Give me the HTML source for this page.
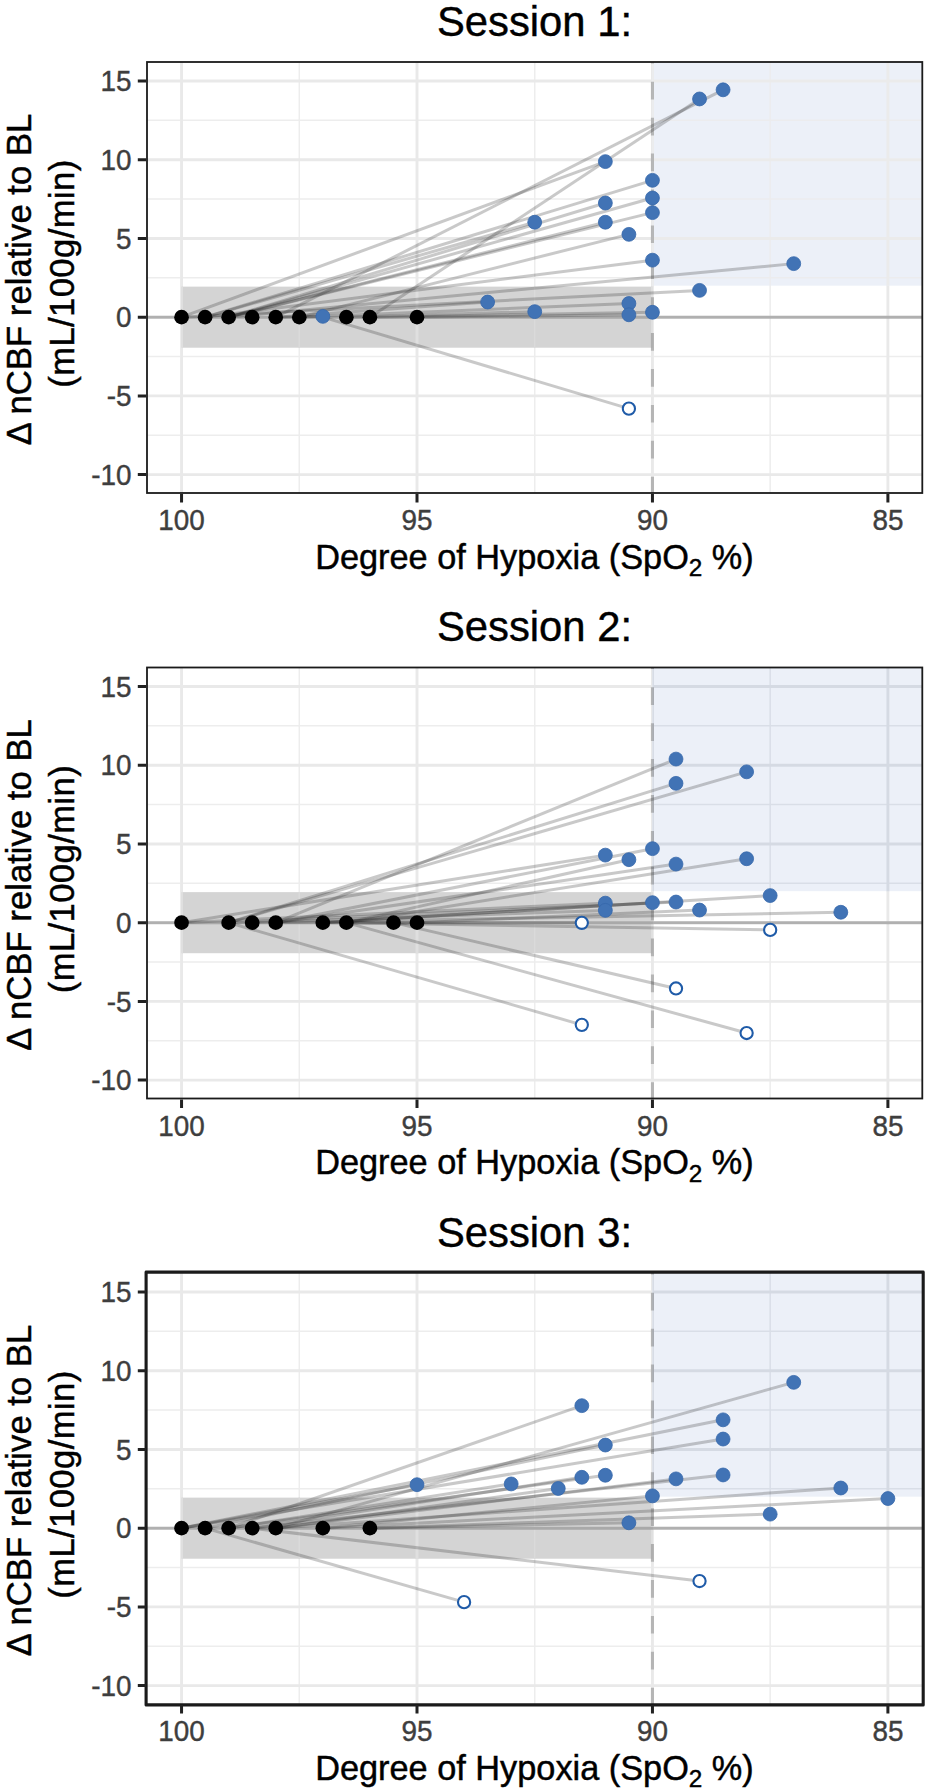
<!DOCTYPE html>
<html lang="en"><head><meta charset="utf-8"><title>Change in nCBF relative to baseline by degree of hypoxia</title>
<style>html,body{margin:0;padding:0;background:#fff}svg{display:block}text{font-family:"Liberation Sans",Arial,Helvetica,sans-serif}</style></head><body>
<svg width="930" height="1792" viewBox="0 0 930 1792">
<rect x="0" y="0" width="930" height="1792" fill="#ffffff"/>
<g id="panel1">
<clipPath id="cp0"><rect x="147.0" y="62.00" width="775.30" height="431.00"/></clipPath>
<clipPath id="cg0"><rect x="181.55" y="286.62" width="470.90" height="61.09"/></clipPath>
<clipPath id="cb0"><rect x="652.45" y="62.00" width="269.85" height="223.67"/></clipPath>
<g clip-path="url(#cp0)" fill="none"><path d="M299.28 62.00V493.00M534.73 62.00V493.00M770.17 62.00V493.00M147.0 120.36H922.3M147.0 199.08H922.3M147.0 277.80H922.3M147.0 356.52H922.3M147.0 435.24H922.3" stroke="#ededed" stroke-width="1.5"/><path d="M181.55 62.00V493.00M417.00 62.00V493.00M652.45 62.00V493.00M887.90 62.00V493.00M147.0 81.00H922.3M147.0 159.72H922.3M147.0 238.44H922.3M147.0 317.16H922.3M147.0 395.88H922.3M147.0 474.60H922.3" stroke="#e9e9e9" stroke-width="2.9"/></g>
<rect x="181.55" y="286.62" width="470.90" height="61.09" fill="#d4d4d4"/>
<g clip-path="url(#cg0)" fill="none"><path d="M299.28 62.00V493.00M534.73 62.00V493.00M770.17 62.00V493.00M147.0 120.36H922.3M147.0 199.08H922.3M147.0 277.80H922.3M147.0 356.52H922.3M147.0 435.24H922.3" stroke="#dadada" stroke-width="1.5"/><path d="M181.55 62.00V493.00M417.00 62.00V493.00M652.45 62.00V493.00M887.90 62.00V493.00M147.0 81.00H922.3M147.0 159.72H922.3M147.0 238.44H922.3M147.0 317.16H922.3M147.0 395.88H922.3M147.0 474.60H922.3" stroke="#dfdfdf" stroke-width="2.9"/></g>
<rect x="652.45" y="62.00" width="269.85" height="223.67" fill="#ecf0f8"/>
<g clip-path="url(#cb0)" fill="none"><path d="M299.28 62.00V493.00M534.73 62.00V493.00M770.17 62.00V493.00M147.0 120.36H922.3M147.0 199.08H922.3M147.0 277.80H922.3M147.0 356.52H922.3M147.0 435.24H922.3" stroke="#ececee" stroke-width="1.5"/><path d="M181.55 62.00V493.00M417.00 62.00V493.00M652.45 62.00V493.00M887.90 62.00V493.00M147.0 81.00H922.3M147.0 159.72H922.3M147.0 238.44H922.3M147.0 317.16H922.3M147.0 395.88H922.3M147.0 474.60H922.3" stroke="#ebebeb" stroke-width="2.9"/></g>
<g clip-path="url(#cp0)">
<line x1="147.0" y1="317.16" x2="922.3" y2="317.16" stroke="rgba(60,60,60,0.33)" stroke-width="3.0"/>
<line x1="652.45" y1="493.00" x2="652.45" y2="62.00" stroke="rgba(90,90,90,0.36)" stroke-width="3.1" stroke-dasharray="17.7 18.2" stroke-dashoffset="1.4"/>
<path d="M275.73 317.16L723.09 89.82" fill="none" stroke="rgba(40,40,40,0.25)" stroke-width="3.0" stroke-linejoin="round"/>
<path d="M369.91 317.16L699.54 98.95" fill="none" stroke="rgba(40,40,40,0.25)" stroke-width="3.0" stroke-linejoin="round"/>
<path d="M181.55 317.16L605.36 161.61" fill="none" stroke="rgba(40,40,40,0.25)" stroke-width="3.0" stroke-linejoin="round"/>
<path d="M205.10 317.16L652.45 180.34" fill="none" stroke="rgba(40,40,40,0.25)" stroke-width="3.0" stroke-linejoin="round"/>
<path d="M205.10 317.16L534.73 222.22" fill="none" stroke="rgba(40,40,40,0.25)" stroke-width="3.0" stroke-linejoin="round"/>
<path d="M228.64 317.16L605.36 203.02" fill="none" stroke="rgba(40,40,40,0.25)" stroke-width="3.0" stroke-linejoin="round"/>
<path d="M228.64 317.16L652.45 197.98" fill="none" stroke="rgba(40,40,40,0.25)" stroke-width="3.0" stroke-linejoin="round"/>
<path d="M228.64 317.16L605.36 222.22" fill="none" stroke="rgba(40,40,40,0.25)" stroke-width="3.0" stroke-linejoin="round"/>
<path d="M228.64 317.16L652.45 212.62" fill="none" stroke="rgba(40,40,40,0.25)" stroke-width="3.0" stroke-linejoin="round"/>
<path d="M299.28 317.16L628.90 234.35" fill="none" stroke="rgba(40,40,40,0.25)" stroke-width="3.0" stroke-linejoin="round"/>
<path d="M205.10 317.16L652.45 260.17" fill="none" stroke="rgba(40,40,40,0.25)" stroke-width="3.0" stroke-linejoin="round"/>
<path d="M228.64 317.16L793.72 263.63" fill="none" stroke="rgba(40,40,40,0.25)" stroke-width="3.0" stroke-linejoin="round"/>
<path d="M181.55 317.16L699.54 290.40" fill="none" stroke="rgba(40,40,40,0.25)" stroke-width="3.0" stroke-linejoin="round"/>
<path d="M275.73 317.16L487.64 302.05" fill="none" stroke="rgba(40,40,40,0.25)" stroke-width="3.0" stroke-linejoin="round"/>
<path d="M299.28 317.16L628.90 303.46" fill="none" stroke="rgba(40,40,40,0.25)" stroke-width="3.0" stroke-linejoin="round"/>
<path d="M346.37 317.16L534.73 311.65" fill="none" stroke="rgba(40,40,40,0.25)" stroke-width="3.0" stroke-linejoin="round"/>
<path d="M417.00 317.16L628.90 314.80" fill="none" stroke="rgba(40,40,40,0.25)" stroke-width="3.0" stroke-linejoin="round"/>
<path d="M369.91 317.16L652.45 312.28" fill="none" stroke="rgba(40,40,40,0.25)" stroke-width="3.0" stroke-linejoin="round"/>
<path d="M322.82 317.16L628.90 408.63" fill="none" stroke="rgba(40,40,40,0.25)" stroke-width="3.0" stroke-linejoin="round"/>
<path d="M275.73 317.16L322.82 316.37" fill="none" stroke="rgba(40,40,40,0.25)" stroke-width="3.0" stroke-linejoin="round"/>
<circle cx="181.55" cy="317.16" r="7.35" fill="#000"/>
<circle cx="205.10" cy="317.16" r="7.35" fill="#000"/>
<circle cx="228.64" cy="317.16" r="7.35" fill="#000"/>
<circle cx="252.19" cy="317.16" r="7.35" fill="#000"/>
<circle cx="275.73" cy="317.16" r="7.35" fill="#000"/>
<circle cx="299.28" cy="317.16" r="7.35" fill="#000"/>
<circle cx="346.37" cy="317.16" r="7.35" fill="#000"/>
<circle cx="369.91" cy="317.16" r="7.35" fill="#000"/>
<circle cx="417.00" cy="317.16" r="7.35" fill="#000"/>
<circle cx="723.09" cy="89.82" r="6.949999999999999" fill="#4173B5" stroke="#3567AB" stroke-width="0.8"/>
<circle cx="699.54" cy="98.95" r="6.949999999999999" fill="#4173B5" stroke="#3567AB" stroke-width="0.8"/>
<circle cx="605.36" cy="161.61" r="6.949999999999999" fill="#4173B5" stroke="#3567AB" stroke-width="0.8"/>
<circle cx="652.45" cy="180.34" r="6.949999999999999" fill="#4173B5" stroke="#3567AB" stroke-width="0.8"/>
<circle cx="534.73" cy="222.22" r="6.949999999999999" fill="#4173B5" stroke="#3567AB" stroke-width="0.8"/>
<circle cx="605.36" cy="203.02" r="6.949999999999999" fill="#4173B5" stroke="#3567AB" stroke-width="0.8"/>
<circle cx="652.45" cy="197.98" r="6.949999999999999" fill="#4173B5" stroke="#3567AB" stroke-width="0.8"/>
<circle cx="605.36" cy="222.22" r="6.949999999999999" fill="#4173B5" stroke="#3567AB" stroke-width="0.8"/>
<circle cx="652.45" cy="212.62" r="6.949999999999999" fill="#4173B5" stroke="#3567AB" stroke-width="0.8"/>
<circle cx="628.90" cy="234.35" r="6.949999999999999" fill="#4173B5" stroke="#3567AB" stroke-width="0.8"/>
<circle cx="652.45" cy="260.17" r="6.949999999999999" fill="#4173B5" stroke="#3567AB" stroke-width="0.8"/>
<circle cx="793.72" cy="263.63" r="6.949999999999999" fill="#4173B5" stroke="#3567AB" stroke-width="0.8"/>
<circle cx="699.54" cy="290.40" r="6.949999999999999" fill="#4173B5" stroke="#3567AB" stroke-width="0.8"/>
<circle cx="487.64" cy="302.05" r="6.949999999999999" fill="#4173B5" stroke="#3567AB" stroke-width="0.8"/>
<circle cx="628.90" cy="303.46" r="6.949999999999999" fill="#4173B5" stroke="#3567AB" stroke-width="0.8"/>
<circle cx="534.73" cy="311.65" r="6.949999999999999" fill="#4173B5" stroke="#3567AB" stroke-width="0.8"/>
<circle cx="628.90" cy="314.80" r="6.949999999999999" fill="#4173B5" stroke="#3567AB" stroke-width="0.8"/>
<circle cx="652.45" cy="312.28" r="6.949999999999999" fill="#4173B5" stroke="#3567AB" stroke-width="0.8"/>
<circle cx="628.90" cy="408.63" r="6.1" fill="#fff" stroke="#1F5BA8" stroke-width="2.1"/>
<circle cx="322.82" cy="316.37" r="6.949999999999999" fill="#4173B5" stroke="#3567AB" stroke-width="0.8"/>
</g>
<rect x="147.0" y="62.00" width="775.30" height="431.00" fill="none" stroke="#1a1a1a" stroke-width="1.8"/>
<path d="M137.80 81.00H146.10M137.80 159.72H146.10M137.80 238.44H146.10M137.80 317.16H146.10M137.80 395.88H146.10M137.80 474.60H146.10M181.55 493.90V502.40M417.00 493.90V502.40M652.45 493.90V502.40M887.90 493.90V502.40" stroke="#222" stroke-width="3" fill="none"/>
<text transform="translate(131.6 91.20) scale(0.975 1)" font-size="28.6" fill="#3e3e3e" stroke="#3e3e3e" stroke-width="0.4" text-anchor="end">15</text>
<text transform="translate(131.6 169.92) scale(0.975 1)" font-size="28.6" fill="#3e3e3e" stroke="#3e3e3e" stroke-width="0.4" text-anchor="end">10</text>
<text transform="translate(131.6 248.64) scale(0.975 1)" font-size="28.6" fill="#3e3e3e" stroke="#3e3e3e" stroke-width="0.4" text-anchor="end">5</text>
<text transform="translate(131.6 327.36) scale(0.975 1)" font-size="28.6" fill="#3e3e3e" stroke="#3e3e3e" stroke-width="0.4" text-anchor="end">0</text>
<text transform="translate(131.6 406.08) scale(0.975 1)" font-size="28.6" fill="#3e3e3e" stroke="#3e3e3e" stroke-width="0.4" text-anchor="end">-5</text>
<text transform="translate(131.6 484.80) scale(0.975 1)" font-size="28.6" fill="#3e3e3e" stroke="#3e3e3e" stroke-width="0.4" text-anchor="end">-10</text>
<text transform="translate(181.55 530.40) scale(0.975 1)" font-size="28.6" fill="#3e3e3e" stroke="#3e3e3e" stroke-width="0.4" text-anchor="middle">100</text>
<text transform="translate(417.00 530.40) scale(0.975 1)" font-size="28.6" fill="#3e3e3e" stroke="#3e3e3e" stroke-width="0.4" text-anchor="middle">95</text>
<text transform="translate(652.45 530.40) scale(0.975 1)" font-size="28.6" fill="#3e3e3e" stroke="#3e3e3e" stroke-width="0.4" text-anchor="middle">90</text>
<text transform="translate(887.90 530.40) scale(0.975 1)" font-size="28.6" fill="#3e3e3e" stroke="#3e3e3e" stroke-width="0.4" text-anchor="middle">85</text>
<text x="534.5" y="35.50" font-size="41.8" fill="#000" stroke="#000" stroke-width="0.4" text-anchor="middle">Session 1:</text>
<text x="534.5" y="568.80" font-size="34.3" fill="#000" stroke="#000" stroke-width="0.45" text-anchor="middle">Degree of Hypoxia (SpO<tspan font-size="24.3" dy="7.6">2</tspan><tspan dy="-7.6"> %)</tspan></text>
<text transform="translate(30.9 279.50) rotate(-90)" font-size="34.7" fill="#000" stroke="#000" stroke-width="0.45" text-anchor="middle">Δ nCBF relative to BL</text>
<text transform="translate(73.7 273.60) rotate(-90)" font-size="34.7" letter-spacing="0.36" fill="#000" stroke="#000" stroke-width="0.45" text-anchor="middle">(mL/100g/min)</text>
</g>
<g id="panel2">
<clipPath id="cp1"><rect x="147.0" y="667.50" width="775.30" height="431.00"/></clipPath>
<clipPath id="cg1"><rect x="181.55" y="892.12" width="470.90" height="61.09"/></clipPath>
<clipPath id="cb1"><rect x="652.45" y="667.50" width="269.85" height="223.67"/></clipPath>
<g clip-path="url(#cp1)" fill="none"><path d="M299.28 667.50V1098.50M534.73 667.50V1098.50M770.17 667.50V1098.50M147.0 725.86H922.3M147.0 804.58H922.3M147.0 883.30H922.3M147.0 962.02H922.3M147.0 1040.74H922.3" stroke="#ededed" stroke-width="1.5"/><path d="M181.55 667.50V1098.50M417.00 667.50V1098.50M652.45 667.50V1098.50M887.90 667.50V1098.50M147.0 686.50H922.3M147.0 765.22H922.3M147.0 843.94H922.3M147.0 922.66H922.3M147.0 1001.38H922.3M147.0 1080.10H922.3" stroke="#e9e9e9" stroke-width="2.9"/></g>
<rect x="181.55" y="892.12" width="470.90" height="61.09" fill="#d4d4d4"/>
<g clip-path="url(#cg1)" fill="none"><path d="M299.28 667.50V1098.50M534.73 667.50V1098.50M770.17 667.50V1098.50M147.0 725.86H922.3M147.0 804.58H922.3M147.0 883.30H922.3M147.0 962.02H922.3M147.0 1040.74H922.3" stroke="#dadada" stroke-width="1.5"/><path d="M181.55 667.50V1098.50M417.00 667.50V1098.50M652.45 667.50V1098.50M887.90 667.50V1098.50M147.0 686.50H922.3M147.0 765.22H922.3M147.0 843.94H922.3M147.0 922.66H922.3M147.0 1001.38H922.3M147.0 1080.10H922.3" stroke="#dfdfdf" stroke-width="2.9"/></g>
<rect x="652.45" y="667.50" width="269.85" height="223.67" fill="#ecf0f8"/>
<g clip-path="url(#cb1)" fill="none"><path d="M299.28 667.50V1098.50M534.73 667.50V1098.50M770.17 667.50V1098.50M147.0 725.86H922.3M147.0 804.58H922.3M147.0 883.30H922.3M147.0 962.02H922.3M147.0 1040.74H922.3" stroke="#d9dee7" stroke-width="1.5"/><path d="M181.55 667.50V1098.50M417.00 667.50V1098.50M652.45 667.50V1098.50M887.90 667.50V1098.50M147.0 686.50H922.3M147.0 765.22H922.3M147.0 843.94H922.3M147.0 922.66H922.3M147.0 1001.38H922.3M147.0 1080.10H922.3" stroke="#d5dae3" stroke-width="2.9"/></g>
<g clip-path="url(#cp1)">
<line x1="147.0" y1="922.66" x2="922.3" y2="922.66" stroke="rgba(60,60,60,0.33)" stroke-width="3.0"/>
<line x1="652.45" y1="1098.50" x2="652.45" y2="667.50" stroke="rgba(90,90,90,0.36)" stroke-width="3.1" stroke-dasharray="17.7 18.2" stroke-dashoffset="1.4"/>
<path d="M275.73 922.66L676.00 759.08" fill="none" stroke="rgba(40,40,40,0.25)" stroke-width="3.0" stroke-linejoin="round"/>
<path d="M228.64 922.66L746.63 771.83" fill="none" stroke="rgba(40,40,40,0.25)" stroke-width="3.0" stroke-linejoin="round"/>
<path d="M228.64 922.66L676.00 783.33" fill="none" stroke="rgba(40,40,40,0.25)" stroke-width="3.0" stroke-linejoin="round"/>
<path d="M275.73 922.66L652.45 848.66" fill="none" stroke="rgba(40,40,40,0.25)" stroke-width="3.0" stroke-linejoin="round"/>
<path d="M181.55 922.66L605.36 855.12" fill="none" stroke="rgba(40,40,40,0.25)" stroke-width="3.0" stroke-linejoin="round"/>
<path d="M346.37 922.66L628.90 859.68" fill="none" stroke="rgba(40,40,40,0.25)" stroke-width="3.0" stroke-linejoin="round"/>
<path d="M275.73 922.66L676.00 864.09" fill="none" stroke="rgba(40,40,40,0.25)" stroke-width="3.0" stroke-linejoin="round"/>
<path d="M346.37 922.66L746.63 858.74" fill="none" stroke="rgba(40,40,40,0.25)" stroke-width="3.0" stroke-linejoin="round"/>
<path d="M322.82 922.66L770.17 895.58" fill="none" stroke="rgba(40,40,40,0.25)" stroke-width="3.0" stroke-linejoin="round"/>
<path d="M181.55 922.66L605.36 903.14" fill="none" stroke="rgba(40,40,40,0.25)" stroke-width="3.0" stroke-linejoin="round"/>
<path d="M252.19 922.66L605.36 910.38" fill="none" stroke="rgba(40,40,40,0.25)" stroke-width="3.0" stroke-linejoin="round"/>
<path d="M322.82 922.66L652.45 902.67" fill="none" stroke="rgba(40,40,40,0.25)" stroke-width="3.0" stroke-linejoin="round"/>
<path d="M228.64 922.66L676.00 902.04" fill="none" stroke="rgba(40,40,40,0.25)" stroke-width="3.0" stroke-linejoin="round"/>
<path d="M417.00 922.66L699.54 910.06" fill="none" stroke="rgba(40,40,40,0.25)" stroke-width="3.0" stroke-linejoin="round"/>
<path d="M275.73 922.66L840.81 912.27" fill="none" stroke="rgba(40,40,40,0.25)" stroke-width="3.0" stroke-linejoin="round"/>
<path d="M322.82 922.66L581.82 922.82" fill="none" stroke="rgba(40,40,40,0.25)" stroke-width="3.0" stroke-linejoin="round"/>
<path d="M346.37 922.66L770.17 929.90" fill="none" stroke="rgba(40,40,40,0.25)" stroke-width="3.0" stroke-linejoin="round"/>
<path d="M393.46 922.66L676.00 988.47" fill="none" stroke="rgba(40,40,40,0.25)" stroke-width="3.0" stroke-linejoin="round"/>
<path d="M228.64 922.66L581.82 1024.84" fill="none" stroke="rgba(40,40,40,0.25)" stroke-width="3.0" stroke-linejoin="round"/>
<path d="M346.37 922.66L746.63 1033.03" fill="none" stroke="rgba(40,40,40,0.25)" stroke-width="3.0" stroke-linejoin="round"/>
<circle cx="181.55" cy="922.66" r="7.35" fill="#000"/>
<circle cx="228.64" cy="922.66" r="7.35" fill="#000"/>
<circle cx="252.19" cy="922.66" r="7.35" fill="#000"/>
<circle cx="275.73" cy="922.66" r="7.35" fill="#000"/>
<circle cx="322.82" cy="922.66" r="7.35" fill="#000"/>
<circle cx="346.37" cy="922.66" r="7.35" fill="#000"/>
<circle cx="393.46" cy="922.66" r="7.35" fill="#000"/>
<circle cx="417.00" cy="922.66" r="7.35" fill="#000"/>
<circle cx="676.00" cy="759.08" r="6.949999999999999" fill="#4173B5" stroke="#3567AB" stroke-width="0.8"/>
<circle cx="746.63" cy="771.83" r="6.949999999999999" fill="#4173B5" stroke="#3567AB" stroke-width="0.8"/>
<circle cx="676.00" cy="783.33" r="6.949999999999999" fill="#4173B5" stroke="#3567AB" stroke-width="0.8"/>
<circle cx="652.45" cy="848.66" r="6.949999999999999" fill="#4173B5" stroke="#3567AB" stroke-width="0.8"/>
<circle cx="605.36" cy="855.12" r="6.949999999999999" fill="#4173B5" stroke="#3567AB" stroke-width="0.8"/>
<circle cx="628.90" cy="859.68" r="6.949999999999999" fill="#4173B5" stroke="#3567AB" stroke-width="0.8"/>
<circle cx="676.00" cy="864.09" r="6.949999999999999" fill="#4173B5" stroke="#3567AB" stroke-width="0.8"/>
<circle cx="746.63" cy="858.74" r="6.949999999999999" fill="#4173B5" stroke="#3567AB" stroke-width="0.8"/>
<circle cx="770.17" cy="895.58" r="6.949999999999999" fill="#4173B5" stroke="#3567AB" stroke-width="0.8"/>
<circle cx="605.36" cy="903.14" r="6.949999999999999" fill="#4173B5" stroke="#3567AB" stroke-width="0.8"/>
<circle cx="605.36" cy="910.38" r="6.949999999999999" fill="#4173B5" stroke="#3567AB" stroke-width="0.8"/>
<circle cx="652.45" cy="902.67" r="6.949999999999999" fill="#4173B5" stroke="#3567AB" stroke-width="0.8"/>
<circle cx="676.00" cy="902.04" r="6.949999999999999" fill="#4173B5" stroke="#3567AB" stroke-width="0.8"/>
<circle cx="699.54" cy="910.06" r="6.949999999999999" fill="#4173B5" stroke="#3567AB" stroke-width="0.8"/>
<circle cx="840.81" cy="912.27" r="6.949999999999999" fill="#4173B5" stroke="#3567AB" stroke-width="0.8"/>
<circle cx="581.82" cy="922.82" r="6.1" fill="#fff" stroke="#1F5BA8" stroke-width="2.1"/>
<circle cx="770.17" cy="929.90" r="6.1" fill="#fff" stroke="#1F5BA8" stroke-width="2.1"/>
<circle cx="676.00" cy="988.47" r="6.1" fill="#fff" stroke="#1F5BA8" stroke-width="2.1"/>
<circle cx="581.82" cy="1024.84" r="6.1" fill="#fff" stroke="#1F5BA8" stroke-width="2.1"/>
<circle cx="746.63" cy="1033.03" r="6.1" fill="#fff" stroke="#1F5BA8" stroke-width="2.1"/>
</g>
<rect x="147.0" y="667.50" width="775.30" height="431.00" fill="none" stroke="#1a1a1a" stroke-width="1.8"/>
<path d="M137.80 686.50H146.10M137.80 765.22H146.10M137.80 843.94H146.10M137.80 922.66H146.10M137.80 1001.38H146.10M137.80 1080.10H146.10M181.55 1099.40V1107.90M417.00 1099.40V1107.90M652.45 1099.40V1107.90M887.90 1099.40V1107.90" stroke="#222" stroke-width="3" fill="none"/>
<text transform="translate(131.6 696.70) scale(0.975 1)" font-size="28.6" fill="#3e3e3e" stroke="#3e3e3e" stroke-width="0.4" text-anchor="end">15</text>
<text transform="translate(131.6 775.42) scale(0.975 1)" font-size="28.6" fill="#3e3e3e" stroke="#3e3e3e" stroke-width="0.4" text-anchor="end">10</text>
<text transform="translate(131.6 854.14) scale(0.975 1)" font-size="28.6" fill="#3e3e3e" stroke="#3e3e3e" stroke-width="0.4" text-anchor="end">5</text>
<text transform="translate(131.6 932.86) scale(0.975 1)" font-size="28.6" fill="#3e3e3e" stroke="#3e3e3e" stroke-width="0.4" text-anchor="end">0</text>
<text transform="translate(131.6 1011.58) scale(0.975 1)" font-size="28.6" fill="#3e3e3e" stroke="#3e3e3e" stroke-width="0.4" text-anchor="end">-5</text>
<text transform="translate(131.6 1090.30) scale(0.975 1)" font-size="28.6" fill="#3e3e3e" stroke="#3e3e3e" stroke-width="0.4" text-anchor="end">-10</text>
<text transform="translate(181.55 1135.90) scale(0.975 1)" font-size="28.6" fill="#3e3e3e" stroke="#3e3e3e" stroke-width="0.4" text-anchor="middle">100</text>
<text transform="translate(417.00 1135.90) scale(0.975 1)" font-size="28.6" fill="#3e3e3e" stroke="#3e3e3e" stroke-width="0.4" text-anchor="middle">95</text>
<text transform="translate(652.45 1135.90) scale(0.975 1)" font-size="28.6" fill="#3e3e3e" stroke="#3e3e3e" stroke-width="0.4" text-anchor="middle">90</text>
<text transform="translate(887.90 1135.90) scale(0.975 1)" font-size="28.6" fill="#3e3e3e" stroke="#3e3e3e" stroke-width="0.4" text-anchor="middle">85</text>
<text x="534.5" y="641.00" font-size="41.8" fill="#000" stroke="#000" stroke-width="0.4" text-anchor="middle">Session 2:</text>
<text x="534.5" y="1174.30" font-size="34.3" fill="#000" stroke="#000" stroke-width="0.45" text-anchor="middle">Degree of Hypoxia (SpO<tspan font-size="24.3" dy="7.6">2</tspan><tspan dy="-7.6"> %)</tspan></text>
<text transform="translate(30.9 885.00) rotate(-90)" font-size="34.7" fill="#000" stroke="#000" stroke-width="0.45" text-anchor="middle">Δ nCBF relative to BL</text>
<text transform="translate(73.7 879.10) rotate(-90)" font-size="34.7" letter-spacing="0.36" fill="#000" stroke="#000" stroke-width="0.45" text-anchor="middle">(mL/100g/min)</text>
</g>
<g id="panel3">
<clipPath id="cp2"><rect x="147.0" y="1273.00" width="775.30" height="431.00"/></clipPath>
<clipPath id="cg2"><rect x="181.55" y="1497.62" width="470.90" height="61.09"/></clipPath>
<clipPath id="cb2"><rect x="652.45" y="1273.00" width="269.85" height="223.67"/></clipPath>
<g clip-path="url(#cp2)" fill="none"><path d="M299.28 1273.00V1704.00M534.73 1273.00V1704.00M770.17 1273.00V1704.00M147.0 1331.36H922.3M147.0 1410.08H922.3M147.0 1488.80H922.3M147.0 1567.52H922.3M147.0 1646.24H922.3" stroke="#ededed" stroke-width="1.5"/><path d="M181.55 1273.00V1704.00M417.00 1273.00V1704.00M652.45 1273.00V1704.00M887.90 1273.00V1704.00M147.0 1292.00H922.3M147.0 1370.72H922.3M147.0 1449.44H922.3M147.0 1528.16H922.3M147.0 1606.88H922.3M147.0 1685.60H922.3" stroke="#e9e9e9" stroke-width="2.9"/></g>
<rect x="181.55" y="1497.62" width="470.90" height="61.09" fill="#d4d4d4"/>
<g clip-path="url(#cg2)" fill="none"><path d="M299.28 1273.00V1704.00M534.73 1273.00V1704.00M770.17 1273.00V1704.00M147.0 1331.36H922.3M147.0 1410.08H922.3M147.0 1488.80H922.3M147.0 1567.52H922.3M147.0 1646.24H922.3" stroke="#dadada" stroke-width="1.5"/><path d="M181.55 1273.00V1704.00M417.00 1273.00V1704.00M652.45 1273.00V1704.00M887.90 1273.00V1704.00M147.0 1292.00H922.3M147.0 1370.72H922.3M147.0 1449.44H922.3M147.0 1528.16H922.3M147.0 1606.88H922.3M147.0 1685.60H922.3" stroke="#dfdfdf" stroke-width="2.9"/></g>
<rect x="652.45" y="1273.00" width="269.85" height="223.67" fill="#ecf0f8"/>
<g clip-path="url(#cb2)" fill="none"><path d="M299.28 1273.00V1704.00M534.73 1273.00V1704.00M770.17 1273.00V1704.00M147.0 1331.36H922.3M147.0 1410.08H922.3M147.0 1488.80H922.3M147.0 1567.52H922.3M147.0 1646.24H922.3" stroke="#d9dee7" stroke-width="1.5"/><path d="M181.55 1273.00V1704.00M417.00 1273.00V1704.00M652.45 1273.00V1704.00M887.90 1273.00V1704.00M147.0 1292.00H922.3M147.0 1370.72H922.3M147.0 1449.44H922.3M147.0 1528.16H922.3M147.0 1606.88H922.3M147.0 1685.60H922.3" stroke="#d5dae3" stroke-width="2.9"/></g>
<g clip-path="url(#cp2)">
<line x1="147.0" y1="1528.16" x2="922.3" y2="1528.16" stroke="rgba(60,60,60,0.33)" stroke-width="3.0"/>
<line x1="652.45" y1="1704.00" x2="652.45" y2="1273.00" stroke="rgba(90,90,90,0.36)" stroke-width="3.1" stroke-dasharray="17.7 18.2" stroke-dashoffset="1.4"/>
<path d="M275.73 1528.16L793.72 1382.37" fill="none" stroke="rgba(40,40,40,0.25)" stroke-width="3.0" stroke-linejoin="round"/>
<path d="M228.64 1528.16L581.82 1405.67" fill="none" stroke="rgba(40,40,40,0.25)" stroke-width="3.0" stroke-linejoin="round"/>
<path d="M181.55 1528.16L723.09 1419.84" fill="none" stroke="rgba(40,40,40,0.25)" stroke-width="3.0" stroke-linejoin="round"/>
<path d="M181.55 1528.16L723.09 1439.05" fill="none" stroke="rgba(40,40,40,0.25)" stroke-width="3.0" stroke-linejoin="round"/>
<path d="M205.10 1528.16L605.36 1445.03" fill="none" stroke="rgba(40,40,40,0.25)" stroke-width="3.0" stroke-linejoin="round"/>
<path d="M252.19 1528.16L723.09 1474.95" fill="none" stroke="rgba(40,40,40,0.25)" stroke-width="3.0" stroke-linejoin="round"/>
<path d="M275.73 1528.16L676.00 1478.88" fill="none" stroke="rgba(40,40,40,0.25)" stroke-width="3.0" stroke-linejoin="round"/>
<path d="M228.64 1528.16L605.36 1475.26" fill="none" stroke="rgba(40,40,40,0.25)" stroke-width="3.0" stroke-linejoin="round"/>
<path d="M252.19 1528.16L581.82 1477.31" fill="none" stroke="rgba(40,40,40,0.25)" stroke-width="3.0" stroke-linejoin="round"/>
<path d="M275.73 1528.16L558.27 1488.49" fill="none" stroke="rgba(40,40,40,0.25)" stroke-width="3.0" stroke-linejoin="round"/>
<path d="M228.64 1528.16L511.18 1483.92" fill="none" stroke="rgba(40,40,40,0.25)" stroke-width="3.0" stroke-linejoin="round"/>
<path d="M322.82 1528.16L652.45 1495.88" fill="none" stroke="rgba(40,40,40,0.25)" stroke-width="3.0" stroke-linejoin="round"/>
<path d="M275.73 1528.16L840.81 1488.01" fill="none" stroke="rgba(40,40,40,0.25)" stroke-width="3.0" stroke-linejoin="round"/>
<path d="M322.82 1528.16L887.90 1498.56" fill="none" stroke="rgba(40,40,40,0.25)" stroke-width="3.0" stroke-linejoin="round"/>
<path d="M369.91 1528.16L770.17 1514.15" fill="none" stroke="rgba(40,40,40,0.25)" stroke-width="3.0" stroke-linejoin="round"/>
<path d="M369.91 1528.16L628.90 1522.81" fill="none" stroke="rgba(40,40,40,0.25)" stroke-width="3.0" stroke-linejoin="round"/>
<path d="M252.19 1528.16L699.54 1581.06" fill="none" stroke="rgba(40,40,40,0.25)" stroke-width="3.0" stroke-linejoin="round"/>
<path d="M205.10 1528.16L464.09 1602.16" fill="none" stroke="rgba(40,40,40,0.25)" stroke-width="3.0" stroke-linejoin="round"/>
<path d="M181.55 1528.16L417.00 1484.71" fill="none" stroke="rgba(40,40,40,0.25)" stroke-width="3.0" stroke-linejoin="round"/>
<circle cx="181.55" cy="1528.16" r="7.35" fill="#000"/>
<circle cx="205.10" cy="1528.16" r="7.35" fill="#000"/>
<circle cx="228.64" cy="1528.16" r="7.35" fill="#000"/>
<circle cx="252.19" cy="1528.16" r="7.35" fill="#000"/>
<circle cx="275.73" cy="1528.16" r="7.35" fill="#000"/>
<circle cx="322.82" cy="1528.16" r="7.35" fill="#000"/>
<circle cx="369.91" cy="1528.16" r="7.35" fill="#000"/>
<circle cx="793.72" cy="1382.37" r="6.949999999999999" fill="#4173B5" stroke="#3567AB" stroke-width="0.8"/>
<circle cx="581.82" cy="1405.67" r="6.949999999999999" fill="#4173B5" stroke="#3567AB" stroke-width="0.8"/>
<circle cx="723.09" cy="1419.84" r="6.949999999999999" fill="#4173B5" stroke="#3567AB" stroke-width="0.8"/>
<circle cx="723.09" cy="1439.05" r="6.949999999999999" fill="#4173B5" stroke="#3567AB" stroke-width="0.8"/>
<circle cx="605.36" cy="1445.03" r="6.949999999999999" fill="#4173B5" stroke="#3567AB" stroke-width="0.8"/>
<circle cx="723.09" cy="1474.95" r="6.949999999999999" fill="#4173B5" stroke="#3567AB" stroke-width="0.8"/>
<circle cx="676.00" cy="1478.88" r="6.949999999999999" fill="#4173B5" stroke="#3567AB" stroke-width="0.8"/>
<circle cx="605.36" cy="1475.26" r="6.949999999999999" fill="#4173B5" stroke="#3567AB" stroke-width="0.8"/>
<circle cx="581.82" cy="1477.31" r="6.949999999999999" fill="#4173B5" stroke="#3567AB" stroke-width="0.8"/>
<circle cx="558.27" cy="1488.49" r="6.949999999999999" fill="#4173B5" stroke="#3567AB" stroke-width="0.8"/>
<circle cx="511.18" cy="1483.92" r="6.949999999999999" fill="#4173B5" stroke="#3567AB" stroke-width="0.8"/>
<circle cx="652.45" cy="1495.88" r="6.949999999999999" fill="#4173B5" stroke="#3567AB" stroke-width="0.8"/>
<circle cx="840.81" cy="1488.01" r="6.949999999999999" fill="#4173B5" stroke="#3567AB" stroke-width="0.8"/>
<circle cx="887.90" cy="1498.56" r="6.949999999999999" fill="#4173B5" stroke="#3567AB" stroke-width="0.8"/>
<circle cx="770.17" cy="1514.15" r="6.949999999999999" fill="#4173B5" stroke="#3567AB" stroke-width="0.8"/>
<circle cx="628.90" cy="1522.81" r="6.949999999999999" fill="#4173B5" stroke="#3567AB" stroke-width="0.8"/>
<circle cx="699.54" cy="1581.06" r="6.1" fill="#fff" stroke="#1F5BA8" stroke-width="2.1"/>
<circle cx="464.09" cy="1602.16" r="6.1" fill="#fff" stroke="#1F5BA8" stroke-width="2.1"/>
<circle cx="417.00" cy="1484.71" r="6.949999999999999" fill="#4173B5" stroke="#3567AB" stroke-width="0.8"/>
</g>
<rect x="146.10" y="1272.10" width="777.10" height="432.80" fill="none" stroke="#1a1a1a" stroke-width="3.1" stroke-linejoin="round"/>
<path d="M137.80 1292.00H146.10M137.80 1370.72H146.10M137.80 1449.44H146.10M137.80 1528.16H146.10M137.80 1606.88H146.10M137.80 1685.60H146.10M181.55 1704.90V1713.40M417.00 1704.90V1713.40M652.45 1704.90V1713.40M887.90 1704.90V1713.40" stroke="#222" stroke-width="3" fill="none"/>
<text transform="translate(131.6 1302.20) scale(0.975 1)" font-size="28.6" fill="#3e3e3e" stroke="#3e3e3e" stroke-width="0.4" text-anchor="end">15</text>
<text transform="translate(131.6 1380.92) scale(0.975 1)" font-size="28.6" fill="#3e3e3e" stroke="#3e3e3e" stroke-width="0.4" text-anchor="end">10</text>
<text transform="translate(131.6 1459.64) scale(0.975 1)" font-size="28.6" fill="#3e3e3e" stroke="#3e3e3e" stroke-width="0.4" text-anchor="end">5</text>
<text transform="translate(131.6 1538.36) scale(0.975 1)" font-size="28.6" fill="#3e3e3e" stroke="#3e3e3e" stroke-width="0.4" text-anchor="end">0</text>
<text transform="translate(131.6 1617.08) scale(0.975 1)" font-size="28.6" fill="#3e3e3e" stroke="#3e3e3e" stroke-width="0.4" text-anchor="end">-5</text>
<text transform="translate(131.6 1695.80) scale(0.975 1)" font-size="28.6" fill="#3e3e3e" stroke="#3e3e3e" stroke-width="0.4" text-anchor="end">-10</text>
<text transform="translate(181.55 1741.40) scale(0.975 1)" font-size="28.6" fill="#3e3e3e" stroke="#3e3e3e" stroke-width="0.4" text-anchor="middle">100</text>
<text transform="translate(417.00 1741.40) scale(0.975 1)" font-size="28.6" fill="#3e3e3e" stroke="#3e3e3e" stroke-width="0.4" text-anchor="middle">95</text>
<text transform="translate(652.45 1741.40) scale(0.975 1)" font-size="28.6" fill="#3e3e3e" stroke="#3e3e3e" stroke-width="0.4" text-anchor="middle">90</text>
<text transform="translate(887.90 1741.40) scale(0.975 1)" font-size="28.6" fill="#3e3e3e" stroke="#3e3e3e" stroke-width="0.4" text-anchor="middle">85</text>
<text x="534.5" y="1246.50" font-size="41.8" fill="#000" stroke="#000" stroke-width="0.4" text-anchor="middle">Session 3:</text>
<text x="534.5" y="1779.80" font-size="34.3" fill="#000" stroke="#000" stroke-width="0.45" text-anchor="middle">Degree of Hypoxia (SpO<tspan font-size="24.3" dy="7.6">2</tspan><tspan dy="-7.6"> %)</tspan></text>
<text transform="translate(30.9 1490.50) rotate(-90)" font-size="34.7" fill="#000" stroke="#000" stroke-width="0.45" text-anchor="middle">Δ nCBF relative to BL</text>
<text transform="translate(73.7 1484.60) rotate(-90)" font-size="34.7" letter-spacing="0.36" fill="#000" stroke="#000" stroke-width="0.45" text-anchor="middle">(mL/100g/min)</text>
</g>
</svg></body></html>
